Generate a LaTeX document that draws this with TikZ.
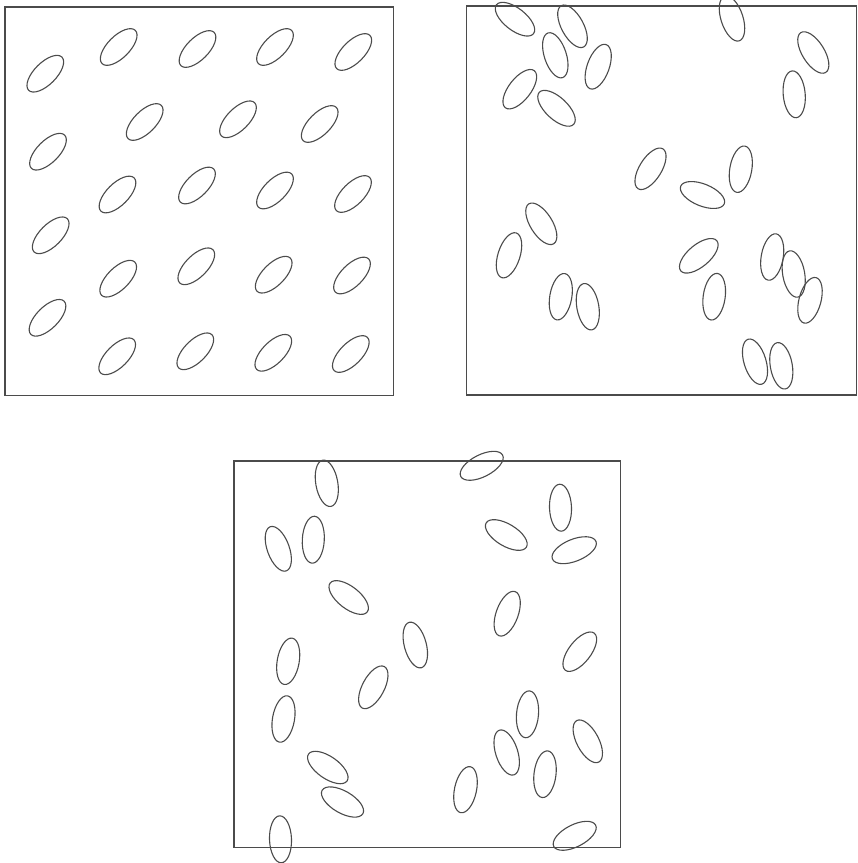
\documentclass[tikz,border=0pt]{standalone}
\definecolor{ink}{RGB}{75,75,75}
\newcommand{\El}[3]{\draw[ell,rotate around={#3:(#1,-#2)}] (#1,-#2) ellipse [x radius=23.5, y radius=11];}
\begin{document}
\begin{tikzpicture}[x=1pt,y=1pt,
  ell/.style={draw=ink,line width=1.1pt},
  frame/.style={draw=ink,line width=1.1pt}]
\useasboundingbox (0,0) rectangle (858,-863);
% frames
\draw[frame] (5,-7) rectangle (393.5,-395.5);
\draw[frame] (466.5,-6) rectangle (856.5,-395);
\draw[frame] (234,-461) rectangle (620.5,-847.5);
% box 1 (regular)
\El{45.3}{73.7}{45} \El{118.7}{47}{45} \El{197.5}{49}{45} \El{275}{47}{45} \El{353.3}{52}{45}
\El{144.7}{122}{45} \El{238}{119.3}{45} \El{319.7}{124}{45}
\El{48}{151.7}{45}
\El{117.5}{194.5}{45} \El{197}{185.5}{45} \El{275}{190.5}{45} \El{353}{194}{45}
\El{50.7}{235.3}{45}
\El{118.2}{278.7}{45} \El{196.3}{266.3}{45} \El{273.7}{274.7}{45} \El{352}{275.5}{45}
\El{47.5}{317.8}{45}
\El{117.2}{356.3}{45} \El{195.3}{351.3}{45} \El{273.3}{352.8}{45} \El{350.8}{354}{45}
% box 2
\El{515}{19.2}{-38}
\El{572.5}{26.3}{-61.5}
\El{555.3}{55.3}{-72}
\El{598.2}{66.7}{70}
\El{519.8}{89.2}{52}
\El{556.5}{108.3}{-43}
\El{732}{18.5}{-72}
\El{813.3}{52.5}{-58}
\El{794.2}{94.3}{95}
\El{650.5}{168.8}{58}
\El{740.8}{169.2}{80}
\El{702.5}{195}{-22}
\El{541.3}{223.8}{-58}
\El{509}{255.3}{72}
\El{560.8}{296.7}{80}
\El{587.8}{306.7}{100}
\El{698.8}{255.8}{40}
\El{714.2}{296.7}{82}
\El{772.2}{257}{80}
\El{793.7}{274}{100}
\El{810}{300.3}{75}
\El{755}{361.7}{107}
\El{781.3}{365.8}{100}
% box 3
\El{326.8}{483.3}{100}
\El{481.7}{465.8}{27}
\El{560.5}{507.7}{92}
\El{506.3}{535}{-31}
\El{574.2}{550.2}{22}
\El{278.3}{548.8}{110}
\El{313.3}{539.7}{87}
\El{348.7}{597.5}{-38}
\El{507.2}{613.7}{70}
\El{415.3}{645}{105}
\El{288.2}{661.3}{80}
\El{579.8}{651.7}{52}
\El{373.3}{687.3}{62}
\El{283.5}{719}{80}
\El{327.8}{767.5}{-35}
\El{342.5}{802}{-30}
\El{280.5}{839.3}{92}
\El{465.5}{789.7}{78}
\El{506.7}{752.5}{108}
\El{527.5}{714.3}{85}
\El{545}{774.2}{83}
\El{587.8}{741.3}{118}
\El{574.7}{835.8}{27}
\end{tikzpicture}
\end{document}
